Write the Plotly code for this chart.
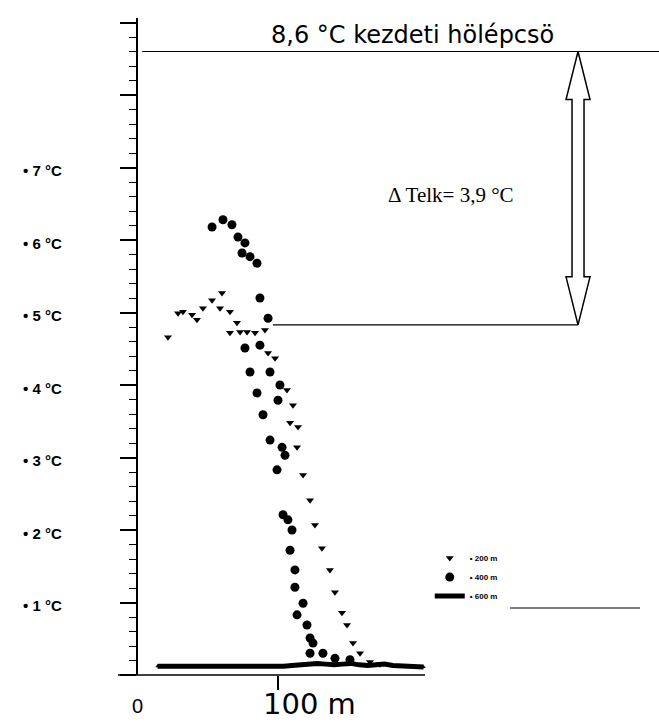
import plotly.graph_objects as go

# ---- data (distance in m, temperature in °C) ----
s200_x = [21.4, 28.6, 32.1, 38.6, 42.1, 46.4, 52.9, 60.0, 58.6, 65.7, 70.7, 65.7, 72.9, 77.9, 83.6, 90.7,
          92.9, 97.9, 106.4, 110.7, 108.6, 114.3, 113.6, 117.9, 122.9, 126.4, 131.4, 137.1, 140.7, 145.7,
          149.3, 153.6, 158.6, 165.7, 172.9]
s200_y = [4.66, 4.99, 5.01, 4.97, 4.90, 5.06, 5.17, 5.27, 5.06, 5.01, 4.86, 4.72, 4.73, 4.73, 4.72, 4.76,
          4.44, 4.37, 3.93, 3.72, 3.48, 3.42, 3.14, 2.76, 2.41, 2.07, 1.75, 1.45, 1.14, 0.86,
          0.69, 0.44, 0.30, 0.18, 0.15]

s400_x = [52.9, 60.7, 67.1, 71.4, 76.4, 74.3, 80.0, 85.0, 87.1, 92.9, 76.4, 87.1, 80.0, 94.3, 101.4, 85.0,
          100.0, 89.3, 94.3, 102.9, 105.0, 99.3, 103.6, 107.1, 110.0, 108.6, 112.1, 112.1, 117.9, 113.6,
          120.7, 122.9, 125.0, 122.9, 132.1, 140.7, 151.4]
s400_y = [6.18, 6.28, 6.21, 6.04, 5.96, 5.82, 5.77, 5.68, 5.20, 4.92, 4.51, 4.55, 4.18, 4.18, 4.00, 3.89,
          3.79, 3.59, 3.24, 3.14, 3.03, 2.83, 2.21, 2.14, 2.00, 1.72, 1.45, 1.21, 0.99, 0.83,
          0.69, 0.51, 0.44, 0.30, 0.30, 0.23, 0.21]

s600_x = [14, 20, 26, 32, 38, 44, 50, 56, 62, 68, 74, 80, 86, 92, 98, 104, 110, 116, 122, 128, 134,
          140, 146, 152, 158, 164, 170, 176, 182, 188, 194, 200, 204]
s600_y = [0.12, 0.12, 0.11, 0.12, 0.11, 0.12, 0.11, 0.11, 0.12, 0.11, 0.12, 0.11, 0.12, 0.12, 0.11, 0.12,
          0.13, 0.14, 0.15, 0.16, 0.15, 0.14, 0.15, 0.16, 0.14, 0.13, 0.14, 0.15, 0.13, 0.12, 0.12, 0.11, 0.11]

y_tick_vals = [1, 2, 3, 4, 5, 6, 7]
y_tick_text = ["• 1 °C", "• 2 °C", "• 3 °C", "• 4 °C", "• 5 °C", "• 6 °C", "• 7 °C"]

initial_step = 8.6
final_level = 4.83
arrow_x = 314.3
delta_text = "Δ Telk= 3,9 °C"
title_text = "8,6 °C kezdeti hölépcsö"

fig = go.Figure()
fig.add_trace(go.Scatter(x=s200_x, y=s200_y, mode="markers", name="<b>• 200 m</b>",
                         marker=dict(symbol="triangle-down", size=7, color="black")))
fig.add_trace(go.Scatter(x=s400_x, y=s400_y, mode="markers", name="<b>• 400 m</b>",
                         marker=dict(symbol="circle", size=9, color="black")))
fig.add_trace(go.Scatter(x=s600_x, y=s600_y, mode="lines+markers", name="<b>• 600 m</b>",
                         line=dict(color="black", width=5),
                         marker=dict(symbol="triangle-up", size=4, color="black")))

W, H = 659, 723
ml, mr, mt, mb = 138, 0, 18, 48
px_per_m = 1.4
px_per_c = 72.5
xmax = (W - ml - mr) / px_per_m
ymax = (H - mt - mb) / px_per_c

fig.update_layout(
    width=W, height=H,
    margin=dict(l=ml, r=mr, t=mt, b=mb),
    paper_bgcolor="white", plot_bgcolor="white",
    font=dict(family="Liberation Sans, Arial, sans-serif", color="black"),
    showlegend=True,
    legend=dict(x=0.56, y=0.2, xanchor="left", yanchor="top",
                font=dict(size=8, family="Liberation Sans Narrow, Liberation Sans"),
                bgcolor="rgba(0,0,0,0)", tracegroupgap=0, itemwidth=30),
)
fig.update_xaxes(range=[0, xmax], showgrid=False, zeroline=False, showline=False,
                 tickvals=[100], ticks="outside", ticklen=14, tickwidth=1.5, tickcolor="black",
                 showticklabels=False)
fig.update_yaxes(range=[0, ymax], showgrid=False, zeroline=False, showline=True, linewidth=2,
                 linecolor="black", ticks="outside", dtick=1, tick0=0, ticklen=16, tickwidth=1.5,
                 tickcolor="black", showticklabels=False,
                 minor=dict(dtick=0.2, ticks="outside", ticklen=7, tickwidth=1.2, tickcolor="black"))

# x-axis line (extends a little left of the y axis)
fig.add_shape(type="line", xref="paper", yref="paper", x0=-20 / (W - ml), x1=(425 - ml) / (W - ml),
              y0=0, y1=0, line=dict(color="black", width=1.5))

# initial heat step line and final level line
fig.add_shape(type="line", xref="x", yref="y", x0=3, x1=xmax, y0=initial_step, y1=initial_step,
              line=dict(color="black", width=1.2))
fig.add_shape(type="line", xref="x", yref="y", x0=96.4, x1=arrow_x, y0=final_level, y1=final_level,
              line=dict(color="black", width=1.2))

# hollow double-headed arrow
hw_shaft = 6 / px_per_m
hw_head = 12 / px_per_m
hl = 48 / px_per_c
a, b = initial_step, final_level
pts = [(arrow_x, a), (arrow_x + hw_head, a - hl), (arrow_x + hw_shaft, a - hl),
       (arrow_x + hw_shaft, b + hl), (arrow_x + hw_head, b + hl), (arrow_x, b),
       (arrow_x - hw_head, b + hl), (arrow_x - hw_shaft, b + hl), (arrow_x - hw_shaft, a - hl),
       (arrow_x - hw_head, a - hl)]
path = "M " + " L ".join(f"{x:.3f},{y:.4f}" for x, y in pts) + " Z"
fig.add_shape(type="path", xref="x", yref="y", path=path, fillcolor="white",
              line=dict(color="black", width=1.5))

# line next to legend
fig.add_shape(type="line", xref="x", yref="y", x0=265.7, x1=358.6, y0=0.924, y1=0.924,
              line=dict(color="black", width=1.2))

# texts
fig.add_annotation(x=196.4, y=initial_step, yshift=17, text=title_text, showarrow=False,
                   font=dict(size=24, family="DejaVu Sans, Liberation Sans"), xanchor="center",
                   yanchor="middle")
fig.add_annotation(x=(386 - ml) / px_per_m, y=(675 - 195) / px_per_c, text=delta_text, showarrow=False,
                   font=dict(size=21, family="Liberation Serif, Times New Roman"), xanchor="left")

for v, t in zip(y_tick_vals, y_tick_text):
    fig.add_annotation(xref="paper", x=(64 - ml) / (W - ml), y=v, yshift=-3, text=f"<b>{t}</b>",
                       showarrow=False, xanchor="right",
                       font=dict(size=15, family="Liberation Sans Narrow, Liberation Sans"))

fig.add_annotation(xref="paper", yref="paper", x=(137 - ml) / (W - ml), y=0, yshift=-31, text="0",
                   showarrow=False, font=dict(size=20, family="Liberation Sans Narrow, Liberation Sans"),
                   xanchor="center", yanchor="middle")
fig.add_annotation(xref="x", yref="paper", x=100, xshift=31, y=0, yshift=-29, text="100 m",
                   showarrow=False, font=dict(size=29, family="DejaVu Sans, Liberation Sans"),
                   xanchor="center", yanchor="middle")

fig.write_html("out.html")
